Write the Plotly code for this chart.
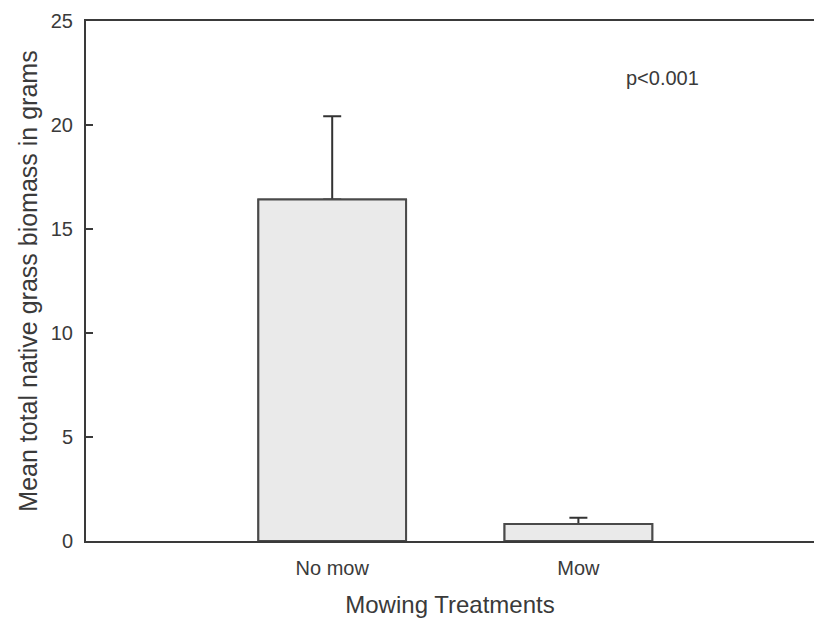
import plotly.graph_objects as go

categories = ["No mow", "Mow"]
means = [16.42, 0.82]
errors_up = [4.0, 0.3]
y_ticks = [0, 5, 10, 15, 20, 25]
p_text = "p<0.001"

FONT = "Liberation Sans, Arial, sans-serif"
AX = "#3a3a3a"
TXT = "#3a3a3a"
BAR_FILL = "#eaeaea"
BAR_LINE = "#4a4a4a"

fig = go.Figure()
# bars with upward error bars
fig.add_trace(go.Bar(
    x=[0, 1], y=means, width=0.6,
    marker=dict(color=BAR_FILL, line=dict(color=BAR_LINE, width=2)),
    error_y=dict(type="data", symmetric=False, array=errors_up, arrayminus=[0, 0],
                 color="#333333", thickness=2, width=9),
    showlegend=False, hoverinfo="skip",
))
# same bars redrawn on top to hide the lower caps of the error bars
fig.add_trace(go.Bar(
    x=[0, 1], y=means, width=0.6,
    marker=dict(color=BAR_FILL, line=dict(color=BAR_LINE, width=2)),
    showlegend=False,
))

fig.add_annotation(x=1.343, y=22.25, xref="x", yref="y", text=p_text, showarrow=False,
                   font=dict(family=FONT, size=20, color=TXT))

fig.update_layout(
    width=814, height=620,
    margin=dict(l=86, r=0, t=21, b=79),
    paper_bgcolor="white", plot_bgcolor="white",
    barmode="overlay",
    font=dict(family=FONT, color=TXT),
    xaxis=dict(range=[-1, 1.957], tickmode="array", tickvals=[0, 1], ticktext=categories,
               showline=True, linecolor=AX, linewidth=2, mirror=True,
               ticks="", showgrid=False, zeroline=False,
               tickfont=dict(family=FONT, size=20, color=TXT),
               ticklabelstandoff=8,
               title=dict(text="Mowing Treatments", font=dict(family=FONT, size=24, color=TXT),
                          standoff=18)),
    yaxis=dict(range=[0, 25], tickmode="array", tickvals=y_ticks,
               showline=True, linecolor=AX, linewidth=2,
               ticks="inside", ticklen=7, tickwidth=2, tickcolor=AX,
               showgrid=False, zeroline=False,
               tickfont=dict(family=FONT, size=20, color=TXT),
               ticklabelstandoff=7,
               title=dict(text="Mean total native grass biomass in grams",
                          font=dict(family=FONT, size=25, color=TXT), standoff=6)),
)

fig.write_html("out.html")
